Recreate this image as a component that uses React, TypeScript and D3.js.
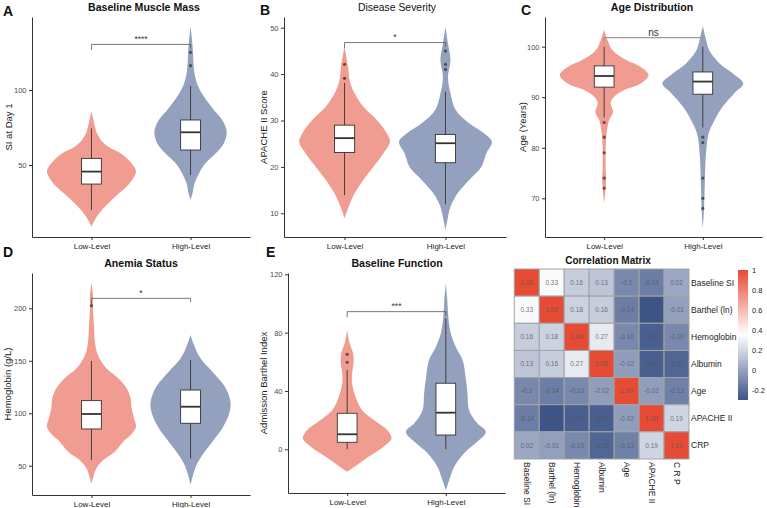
import { useEffect, useRef } from "react";
import * as d3 from "d3";

const groups = ["Low-Level", "High-Level"];
const groupFills = ["#E64B35", "#3C5488"];

// violin outlines: [value, half width as share of half a category step]
const siLow = [[85.6, 0], [80, 0.04], [75.6, 0.07], [71.1, 0.11], [66.7, 0.19], [62.2, 0.34], [57.8, 0.59], [51.1, 0.81], [45.6, 0.9], [40, 0.82], [35.6, 0.71], [28.9, 0.48], [22.2, 0.27], [15.6, 0.11], [8.9, 0]];
const siHigh = [[142.2, 0], [133.3, 0.03], [124.4, 0.05], [113.3, 0.07], [104.4, 0.13], [95.6, 0.27], [86.7, 0.47], [80, 0.64], [72.2, 0.73], [64.4, 0.67], [57.8, 0.51], [51.1, 0.3], [44.4, 0.17], [37.8, 0.08], [31.1, 0.04], [26.7, 0]];
// [lower whisker, q1, median, q3, upper whisker]
const siBoxes = [[20, 37.3, 45.6, 54.4, 74.4], [43.3, 60, 71.8, 80, 102.7]];
const siOutliers = [[], [125.1, 116.2]];

const apacheLow = [[45.9, 0], [41.6, 0.07], [38.7, 0.1], [35.8, 0.2], [33, 0.37], [30.1, 0.64], [27.2, 0.84], [25.4, 0.9], [22.9, 0.77], [20, 0.57], [17.2, 0.37], [14.3, 0.2], [11.4, 0.08], [8.9, 0]];
const apacheHigh = [[50.2, 0], [46.6, 0.05], [43, 0.1], [39.4, 0.05], [35.8, 0.1], [32.3, 0.2], [29.4, 0.47], [27.2, 0.77], [25.4, 0.92], [22.9, 0.81], [20, 0.71], [17.2, 0.47], [14.3, 0.24], [11.4, 0.1], [8.6, 0.04], [6.4, 0]];
const apacheBoxes = [[13.9, 23.1, 26.2, 29, 38.1], [12, 20.9, 25.1, 27, 36.2]];
const apacheOutliers = [[42.1, 39.1], [45, 42.1, 41]];

const ageLow = [[103.4, 0], [101.3, 0.07], [99.3, 0.17], [97.4, 0.44], [96, 0.74], [94.4, 0.9], [92.7, 0.74], [91.4, 0.4], [90.1, 0.2], [88.8, 0.13], [87.1, 0.18], [85.5, 0.1], [82.9, 0.05], [79.6, 0.03], [76.3, 0.03], [73.6, 0.04], [71, 0.02], [69, 0]];
const ageHigh = [[104.1, 0], [102, 0.05], [99.3, 0.13], [96.7, 0.34], [94.7, 0.61], [92.7, 0.82], [90.8, 0.64], [88.1, 0.4], [85.5, 0.24], [82.9, 0.12], [79.6, 0.07], [76.3, 0.05], [73, 0.04], [69.7, 0.03], [67, 0.02], [64.1, 0]];
const ageBoxes = [[86, 92, 94.2, 96.2, 100], [84, 90.6, 93.1, 95, 100]];
const ageOutliers = [[85, 82.1, 79, 74, 72], [82.1, 81, 74, 70, 68]];

const hbLow = [[223.8, 0], [212.7, 0.03], [200, 0.03], [184, 0.05], [168, 0.07], [155.5, 0.13], [142.8, 0.3], [133.3, 0.54], [123.7, 0.71], [114.2, 0.79], [104.7, 0.81], [95.1, 0.86], [87.2, 0.9], [79.2, 0.79], [72.9, 0.64], [63.3, 0.47], [55.4, 0.24], [47.5, 0.1], [37.9, 0.03], [33.2, 0]];
const hbHigh = [[174.6, 0], [165, 0.07], [152.3, 0.2], [139.6, 0.44], [126.9, 0.67], [117.4, 0.77], [107.8, 0.81], [98.3, 0.77], [85.6, 0.64], [72.9, 0.44], [60.2, 0.24], [50.6, 0.12], [41.1, 0.05], [31.6, 0]];
const hbBoxes = [[55.4, 85, 99.3, 112, 149.8], [57, 90.4, 106.2, 122.1, 150.7]];
const hbOutliers = [[202.5], []];

const barthelLow = [[81.8, 0], [72.7, 0.05], [65.8, 0.12], [59, 0.13], [52.1, 0.1], [45.3, 0.1], [36.1, 0.17], [27, 0.3], [20.1, 0.54], [13.3, 0.81], [7.5, 0.9], [1.8, 0.74], [-5, 0.44], [-10.7, 0.2], [-15.3, 0]];
const barthelHigh = [[113.8, 0], [102.4, 0.03], [91, 0.05], [79.5, 0.1], [70.4, 0.2], [61.3, 0.34], [49.8, 0.4], [38.4, 0.44], [27, 0.47], [17.8, 0.64], [12.1, 0.81], [5.3, 0.64], [-2.7, 0.37], [-11.9, 0.17], [-21, 0.07], [-28, 0]];
const barthelBoxes = [[0, 4.8, 10.3, 24.7, 54.4], [0, 9.8, 25.1, 45.3, 89.8]];
const barthelOutliers = [[65.1, 59.7], []];

const corrVars = ["Baseline SI", "Barthel (ln)", "Hemoglobin", "Albumin", "Age", "APACHE II", "CRP"];
const corrColLabels = ["Baseline SI", "Barthel (ln)", "Hemoglobin", "Albumin", "Age", "APACHE II", "C R P"];
const corrText = [
  ["1.00", "0.33", "0.16", "0.13", "-0.1", "-0.14", "0.02"],
  ["0.33", "1.00", "0.18", "0.16", "-0.14", "-0.30", "-0.01"],
  ["0.16", "0.18", "1.00", "0.27", "-0.10", "-0.26", "-0.10"],
  ["0.13", "0.16", "0.27", "1.00", "-0.02", "-0.26", "-0.23"],
  ["-0.1", "-0.14", "-0.10", "-0.02", "1.00", "-0.02", "-0.13"],
  ["-0.14", "-0.30", "-0.26", "-0.26", "-0.02", "1.00", "0.19"],
  ["0.02", "-0.01", "-0.10", "-0.23", "-0.13", "0.19", "1.00"],
];
const colorbarTicks = [1, 0.8, 0.6, 0.4, 0.2, 0, -0.2];

const FONT = "'Liberation Sans', Arial, sans-serif";

const panels = [
  { letter: "A", lx: 3, ly: 16, title: "Baseline Muscle Mass", bold: true, tx: 144, ty: 11, yTitle: "SI at Day 1", ytx: 12,
    left: 32, right: 250, top: 17, bottom: 237, ref: [50, 100], refPx: [165, 90], ticks: [50, 100],
    violins: [siLow, siHigh], boxes: siBoxes, outliers: siOutliers, sig: 130.4, sigLabel: "****", light: false },
  { letter: "B", lx: 260, ly: 15, title: "Disease Severity", bold: false, tx: 397, ty: 11, yTitle: "APACHE II Score", ytx: 267,
    left: 284, right: 506, top: 17, bottom: 237, ref: [10, 50], refPx: [213.3, 27.7], ticks: [10, 20, 30, 40, 50],
    violins: [apacheLow, apacheHigh], boxes: apacheBoxes, outliers: apacheOutliers, sig: 46.8, sigLabel: "*", light: false },
  { letter: "C", lx: 521, ly: 15, title: "Age Distribution", bold: true, tx: 652, ty: 11, yTitle: "Age (Years)", ytx: 526,
    left: 545, right: 762, top: 17, bottom: 237, ref: [70, 100], refPx: [198.3, 46.7], ticks: [70, 80, 90, 100],
    violins: [ageLow, ageHigh], boxes: ageBoxes, outliers: ageOutliers, sig: 101.8, sigLabel: "ns", light: true },
  { letter: "D", lx: 3, ly: 257, title: "Anemia Status", bold: true, tx: 141, ty: 267, yTitle: "Hemoglobin (g/L)", ytx: 11,
    left: 32, right: 250, top: 273, bottom: 495, ref: [50, 200], refPx: [465.7, 308.3], ticks: [50, 100, 150, 200],
    violins: [hbLow, hbHigh], boxes: hbBoxes, outliers: hbOutliers, sig: 209.5, sigLabel: "*", light: false },
  { letter: "E", lx: 266, ly: 257, title: "Baseline Function", bold: true, tx: 397, ty: 267, yTitle: "Admission Barthel Index", ytx: 267,
    left: 288, right: 505, top: 273, bottom: 493, ref: [0, 120], refPx: [449.3, 274.3], ticks: [0, 40, 80, 120],
    violins: [barthelLow, barthelHigh], boxes: barthelBoxes, outliers: barthelOutliers, sig: 94.4, sigLabel: "***", light: false },
];

export default function App() {
  const ref = useRef<SVGSVGElement>(null);

  useEffect(() => {
    const svg = d3.select(ref.current);
    svg.selectAll("*").remove();
    svg.style("font-family", FONT);

    panels.forEach((p) => {
      const g = svg.append("g");
      const y0 = d3.scaleLinear().domain(p.ref).range(p.refPx);
      const y = d3.scaleLinear().domain([y0.invert(p.bottom), y0.invert(p.top)]).range([p.bottom, p.top]);
      const x = d3.scalePoint().domain(groups).range([p.left, p.right]).padding(0.6);
      const w = d3.scaleLinear().domain([0, 1]).range([0, x.step() / 2]);
      const bw = x.step() * 0.2;

      // violins
      p.violins.forEach((v, i) => {
        const cx = x(groups[i]);
        const area = d3.area()
          .curve(d3.curveCatmullRom)
          .y((d) => y(d[0]))
          .x0((d) => cx - w(d[1]))
          .x1((d) => cx + w(d[1]));
        g.append("path").datum(v).attr("d", area)
          .attr("fill", groupFills[i]).attr("fill-opacity", 0.55);
      });

      // boxplots
      p.boxes.forEach((b, i) => {
        const cx = x(groups[i]);
        const [lo, q1, med, q3, hi] = b;
        g.append("line").attr("x1", cx).attr("x2", cx).attr("y1", y(hi)).attr("y2", y(q3))
          .attr("stroke", "#333").attr("stroke-width", 0.9);
        g.append("line").attr("x1", cx).attr("x2", cx).attr("y1", y(q1)).attr("y2", y(lo))
          .attr("stroke", "#333").attr("stroke-width", 0.9);
        g.append("rect").attr("x", cx - bw / 2).attr("width", bw)
          .attr("y", y(q3)).attr("height", y(q1) - y(q3))
          .attr("fill", "#fff").attr("stroke", "#333").attr("stroke-width", 0.9);
        g.append("line").attr("x1", cx - bw / 2).attr("x2", cx + bw / 2).attr("y1", y(med)).attr("y2", y(med))
          .attr("stroke", "#333").attr("stroke-width", 1.8);
        g.selectAll(null).data(p.outliers[i]).enter().append("circle")
          .attr("cx", cx).attr("cy", (d) => y(d)).attr("r", 1.6)
          .attr("fill", "#333").attr("fill-opacity", 0.75);
      });

      // significance bracket
      const by = y(p.sig);
      const x1 = x(groups[0]);
      const x2 = x(groups[1]);
      g.append("path")
        .attr("d", `M${x1},${by + (p.light ? 5 : 5.5)}V${by}H${x2}V${by + (p.light ? 5 : 4)}`)
        .attr("fill", "none")
        .attr("stroke", p.light ? "#9a9a9a" : "#555")
        .attr("stroke-width", p.light ? 1.2 : 0.8);
      g.append("text").attr("x", (x1 + x2) / 2).attr("y", p.light ? by - 2 : by - 2.5)
        .attr("text-anchor", "middle").attr("font-size", p.light ? 10 : 8.5)
        .attr("fill", "#333").text(p.sigLabel);

      // axes
      const ya = g.append("g").attr("transform", `translate(${p.left},0)`)
        .call(d3.axisLeft(y).tickValues(p.ticks).tickSize(3).tickSizeOuter(0).tickPadding(2.5));
      ya.select(".domain").attr("stroke", "#333").attr("stroke-width", 1);
      ya.selectAll(".tick line").attr("stroke", "#333");
      ya.selectAll(".tick text").attr("font-size", 7.5).attr("fill", "#4d4d4d").attr("font-family", FONT);

      const xa = g.append("g").attr("transform", `translate(0,${p.bottom})`)
        .call(d3.axisBottom(x).tickSize(3).tickSizeOuter(0).tickPadding(3));
      xa.select(".domain").attr("stroke", "#333").attr("stroke-width", 1);
      xa.selectAll(".tick line").attr("stroke", "#333");
      xa.selectAll(".tick text").attr("font-size", 8).attr("fill", "#222").attr("font-family", FONT);

      // labels
      g.append("text").attr("x", p.lx).attr("y", p.ly).attr("font-size", 14).attr("font-weight", "bold")
        .attr("fill", "#111").text(p.letter);
      g.append("text").attr("x", p.tx).attr("y", p.ty).attr("text-anchor", "middle")
        .attr("font-size", p.bold ? 10.6 : 10.4).attr("font-weight", p.bold ? "bold" : "normal")
        .attr("fill", "#111").text(p.title);
      g.append("text").attr("transform", `translate(${p.ytx},${(p.top + p.bottom) / 2}) rotate(-90)`)
        .attr("text-anchor", "middle").attr("font-size", 9.5).attr("fill", "#222").text(p.yTitle);
    });

    // correlation matrix
    const mg = svg.append("g");
    const xb = d3.scaleBand().domain(corrVars).range([514.3, 689]);
    const yb = d3.scaleBand().domain(corrVars).range([269, 459]);
    const lo = -0.3;
    const hi = 1;
    const color = d3.scaleLinear<string>().domain([lo, (lo + hi) / 2, hi]).range(["#3C5488", "#ffffff", "#E64B35"]);
    const cells = corrText.flatMap((row, r) => row.map((t, c) => ({ r: corrVars[r], c: corrVars[c], t, v: +t })));

    mg.selectAll("rect.cell").data(cells).enter().append("rect").attr("class", "cell")
      .attr("x", (d) => xb(d.c)).attr("y", (d) => yb(d.r))
      .attr("width", xb.bandwidth()).attr("height", yb.bandwidth())
      .attr("fill", (d) => color(d.v)).attr("stroke", "#a3a3a3").attr("stroke-width", 1);
    mg.selectAll("text.cell").data(cells).enter().append("text").attr("class", "cell")
      .attr("x", (d) => xb(d.c) + xb.bandwidth() / 2).attr("y", (d) => yb(d.r) + yb.bandwidth() / 2)
      .attr("dy", "0.35em").attr("text-anchor", "middle").attr("font-size", 6.5)
      .attr("fill", "#555").attr("fill-opacity", 0.8).text((d) => d.t);

    mg.selectAll("text.row").data(corrVars).enter().append("text").attr("class", "row")
      .attr("x", 691).attr("y", (d) => yb(d) + yb.bandwidth() / 2).attr("dy", "0.35em")
      .attr("font-size", 8.5).attr("fill", "#222").text((d) => d);
    mg.selectAll("text.col").data(corrVars).enter().append("text").attr("class", "col")
      .attr("transform", (d) => `translate(${xb(d) + xb.bandwidth() / 2 - 3},462) rotate(90)`)
      .attr("font-size", 8.5).attr("fill", "#222").text((d, i) => corrColLabels[i]);

    mg.append("text").attr("x", 608).attr("y", 264).attr("text-anchor", "middle")
      .attr("font-size", 10).attr("font-weight", "bold").attr("fill", "#111").text("Correlation Matrix");

    // colour bar
    const cb = d3.scaleLinear().domain([lo, hi]).range([400, 270]);
    const grad = svg.append("defs").append("linearGradient").attr("id", "cbar")
      .attr("x1", 0).attr("x2", 0).attr("y1", 1).attr("y2", 0);
    d3.range(0, 1.0001, 0.1).forEach((t) => {
      grad.append("stop").attr("offset", t).attr("stop-color", color(lo + t * (hi - lo)));
    });
    svg.append("rect").attr("x", 738).attr("y", cb(hi)).attr("width", 10).attr("height", cb(lo) - cb(hi))
      .attr("fill", "url(#cbar)");
    svg.append("g").selectAll("text").data(colorbarTicks).enter().append("text")
      .attr("x", 752).attr("y", (d) => cb(d)).attr("dy", "0.35em")
      .attr("font-size", 7.5).attr("fill", "#222").text((d) => String(d));
  }, []);

  return (
    <div style={{ position: "absolute", left: 0, top: 0 }}>
      <svg ref={ref} width={767} height={508} style={{ display: "block", background: "#fff" }} />
    </div>
  );
}
